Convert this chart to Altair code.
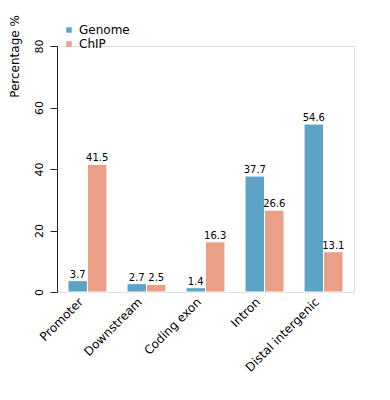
import altair as alt
import pandas as pd

categories = ["Promoter", "Downstream", "Coding exon", "Intron", "Distal intergenic"]
series = ["Genome", "ChIP"]
genome = [3.7, 2.7, 1.4, 37.7, 54.6]
chip = [41.5, 2.5, 16.3, 26.6, 13.1]
colors = ["#5DA3C6", "#EB9F87"]

rows = []
for i, c in enumerate(categories):
    rows.append({"cat": c, "series": "Genome", "val": genome[i], "lab": f"{genome[i]:.1f}"})
    rows.append({"cat": c, "series": "ChIP", "val": chip[i], "lab": f"{chip[i]:.1f}"})
df = pd.DataFrame(rows)

font = "DejaVu Sans"

x = alt.X("cat:N", sort=categories, title=None,
          scale=alt.Scale(paddingInner=0.34, paddingOuter=0.186),
          axis=alt.Axis(labelAngle=-45, labelAlign="right", labelBaseline="top",
                        domain=False, ticks=False, labelPadding=4, labelOffset=-10,
                        labelFontSize=12, labelColor="#000", labelFont=font))
xo = alt.XOffset("series:N", sort=series, scale=alt.Scale(paddingInner=0, paddingOuter=0))

base = alt.Chart(df)
bars = base.mark_bar(stroke="white", strokeWidth=1).encode(
    x=x, xOffset=xo,
    y=alt.Y("val:Q", title="Percentage %",
            scale=alt.Scale(domain=[0, 80], nice=False),
            axis=alt.Axis(values=[0, 20, 40, 60, 80], grid=False, tickSize=7,
                          tickColor="#222", domainColor="#222", labelAngle=-90,
                          labelAlign="center", labelBaseline="bottom", labelPadding=6,
                          labelFontSize=11, labelColor="#000", labelFont=font,
                          titleAngle=-90, titleX=-36, titleY=10, titleAlign="center",
                          titleBaseline="bottom", titleFontSize=12, titleFontWeight="normal",
                          titleColor="#000", titleFont=font)),
    color=alt.Color("series:N", sort=series,
                    scale=alt.Scale(domain=series, range=colors),
                    legend=alt.Legend(title=None, orient="none", legendX=6, legendY=-22,
                                      symbolType="square", symbolSize=30, symbolStrokeWidth=0,
                                      labelFontSize=12, labelFont=font, labelColor="#000",
                                      rowPadding=2)),
)
text = base.mark_text(baseline="bottom", dy=-1, fontSize=10, font=font, color="#000").encode(
    x=x, xOffset=xo, y="val:Q", text="lab:N"
)

chart = (bars + text).properties(
    width=297, height=246,
    autosize=alt.AutoSizeParams(type="none"),
    padding={"left": 49, "top": 38, "right": 20, "bottom": 100},
).configure_view(stroke=None).configure(background="white")

chart.save("out.html", embed_options={"renderer": "svg", "actions": False})
